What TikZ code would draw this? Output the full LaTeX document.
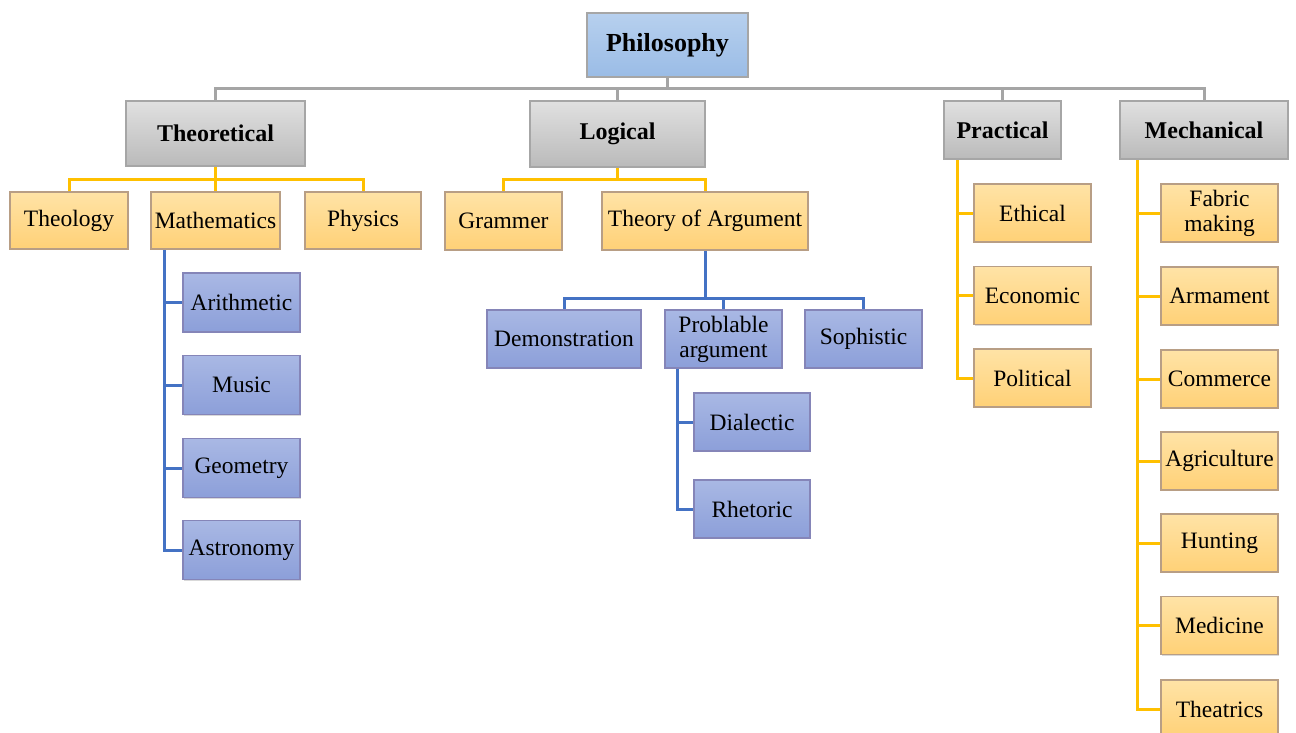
\documentclass[tikz,border=0pt]{standalone}
\usepackage{fontspec}
\setmainfont{Liberation Serif}
\usetikzlibrary{shadows,backgrounds}
\definecolor{gline}{HTML}{A5A5A5}
\definecolor{yline}{HTML}{FFC000}
\definecolor{bline}{HTML}{4472C4}
\definecolor{bord}{HTML}{A6A6A6}
\definecolor{rootT}{HTML}{B7D0EE}
\definecolor{rootB}{HTML}{9ABCE6}
\definecolor{orangeT}{HTML}{FFE3A6}
\definecolor{orangeB}{HTML}{FFD177}
\definecolor{blueT}{HTML}{A9B8E4}
\definecolor{blueB}{HTML}{8C9FD9}
\tikzset{
  box/.style={rectangle, draw=bord, line width=1.3pt, inner sep=0pt, align=center,
    drop shadow={shadow xshift=1.2pt, shadow yshift=-1.2pt, fill=black!25, opacity=0.6}},
  rootbox/.style={box, top color=rootT, bottom color=rootB,
    font=\fontsize{26}{28}\selectfont\bfseries},
  graybox/.style={box, top color=black!12, bottom color=black!27,
    font=\fontsize{24}{26}\selectfont\bfseries},
  orbox/.style={box, draw=bord!80!orange, top color=orangeT, bottom color=orangeB,
    font=\fontsize{23.5}{25}\selectfont},
  blbox/.style={box, draw=bord!80!blue, top color=blueT, bottom color=blueB,
    font=\fontsize{23.5}{25}\selectfont},
  gl/.style={draw=gline, line width=3pt},
  yl/.style={draw=yline, line width=3pt},
  bl/.style={draw=bline, line width=3pt},
}
\begin{document}
\begin{tikzpicture}[x=1pt,y=-1pt]
\useasboundingbox (0,0) rectangle (1296,733);
% root
\node[rootbox, minimum width=161pt, minimum height=64pt] (phil) at (667.5,45) {Philosophy};
% level 1
\node[graybox, minimum width=179pt, minimum height=65pt] (theo) at (215.5,133.5) {Theoretical};
\node[graybox, minimum width=175pt, minimum height=66pt] (logi) at (617.5,134) {Logical};
\node[graybox, minimum width=117pt, minimum height=58pt] (prac) at (1002.5,130) {Practical};
\node[graybox, minimum width=168pt, minimum height=58pt] (mech) at (1204,130) {Mechanical};
% theoretical children
\node[orbox, minimum width=118pt, minimum height=57pt] (theol) at (69,220.5) {Theology};
\node[orbox, minimum width=129pt, minimum height=57pt] (math) at (215.5,220.5) {Mathematics};
\node[orbox, minimum width=116pt, minimum height=57pt] (phys) at (363,220.5) {Physics};
% logical children
\node[orbox, minimum width=117pt, minimum height=58pt] (gram) at (503.5,221) {Grammer};
\node[orbox, minimum width=206pt, minimum height=58pt] (toa) at (705,221) {Theory of Argument};
% mathematics children
\node[blbox, minimum width=117pt, minimum height=59pt] (arit) at (241.5,302.5) {Arithmetic};
\node[blbox, minimum width=117pt, minimum height=59pt] (musi) at (241.5,385) {Music};
\node[blbox, minimum width=117pt, minimum height=59pt] (geom) at (241.5,468) {Geometry};
\node[blbox, minimum width=117pt, minimum height=59pt] (astr) at (241.5,550) {Astronomy};
% theory of argument children
\node[blbox, minimum width=154pt, minimum height=58pt] (demo) at (564,339) {Demonstration};
\node[blbox, minimum width=117pt, minimum height=58pt] (prob) at (723.5,339) {Problable\\argument};
\node[blbox, minimum width=117pt, minimum height=58pt] (soph) at (863.5,339) {Sophistic};
% problable children
\node[blbox, minimum width=116pt, minimum height=58pt] (dial) at (752,422) {Dialectic};
\node[blbox, minimum width=116pt, minimum height=58pt] (rhet) at (752,509) {Rhetoric};
% practical children
\node[orbox, minimum width=117pt, minimum height=58pt] (ethi) at (1032.5,213) {Ethical};
\node[orbox, minimum width=117pt, minimum height=58pt] (econ) at (1032.5,295.5) {Economic};
\node[orbox, minimum width=117pt, minimum height=58pt] (poli) at (1032.5,378) {Political};
% mechanical children
\node[orbox, minimum width=117pt, minimum height=58pt] (fabr) at (1219.5,213) {Fabric\\making};
\node[orbox, minimum width=117pt, minimum height=58pt] (arma) at (1219.5,296) {Armament};
\node[orbox, minimum width=117pt, minimum height=58pt] (comm) at (1219.5,379) {Commerce};
\node[orbox, minimum width=117pt, minimum height=58pt] (agri) at (1219.5,461) {Agriculture};
\node[orbox, minimum width=117pt, minimum height=58pt] (hunt) at (1219.5,543) {Hunting};
\node[orbox, minimum width=117pt, minimum height=58pt] (medi) at (1219.5,625.5) {Medicine};
\node[orbox, minimum width=117pt, minimum height=58pt] (thea) at (1219.5,709) {Theatrics};
% junction coordinates
\coordinate (rootbar) at (667.5,89);
\coordinate (theobar) at (215.5,179);
\coordinate (logibar) at (617.5,179);
\coordinate (mathsp) at (164,249);
\coordinate (toabar) at (705,298);
\coordinate (probsp) at (677,368);
\coordinate (pracsp) at (957,159);
\coordinate (mechsp) at (1137,159);
% connectors
\begin{scope}[on background layer]
\draw[gl] (phil.south) -- (rootbar);
\draw[gl] (rootbar) -| (theo.north);
\draw[gl] (rootbar) -| (logi.north);
\draw[gl] (rootbar) -| (prac.north);
\draw[gl] (rootbar) -| (mech.north);
\draw[yl] (theo.south) -- (theobar);
\draw[yl] (theobar) -| (theol.north);
\draw[yl] (theobar) -| (math.north);
\draw[yl] (theobar) -| (phys.north);
\draw[yl] (logi.south) -- (logibar);
\draw[yl] (logibar) -| (gram.north);
\draw[yl] (logibar) -| (toa.north);
\draw[bl] (mathsp) |- (arit.west);
\draw[bl] (mathsp) |- (musi.west);
\draw[bl] (mathsp) |- (geom.west);
\draw[bl] (mathsp) |- (astr.west);
\draw[bl] (toa.south) -- (toabar);
\draw[bl] (toabar) -| (demo.north);
\draw[bl] (toabar) -| (prob.north);
\draw[bl] (toabar) -| (soph.north);
\draw[bl] (probsp) |- (dial.west);
\draw[bl] (probsp) |- (rhet.west);
\draw[yl] (pracsp) |- (ethi.west);
\draw[yl] (pracsp) |- (econ.west);
\draw[yl] (pracsp) |- (poli.west);
\draw[yl] (mechsp) |- (fabr.west);
\draw[yl] (mechsp) |- (arma.west);
\draw[yl] (mechsp) |- (comm.west);
\draw[yl] (mechsp) |- (agri.west);
\draw[yl] (mechsp) |- (hunt.west);
\draw[yl] (mechsp) |- (medi.west);
\draw[yl] (mechsp) |- (thea.west);
\end{scope}
\end{tikzpicture}
\end{document}
